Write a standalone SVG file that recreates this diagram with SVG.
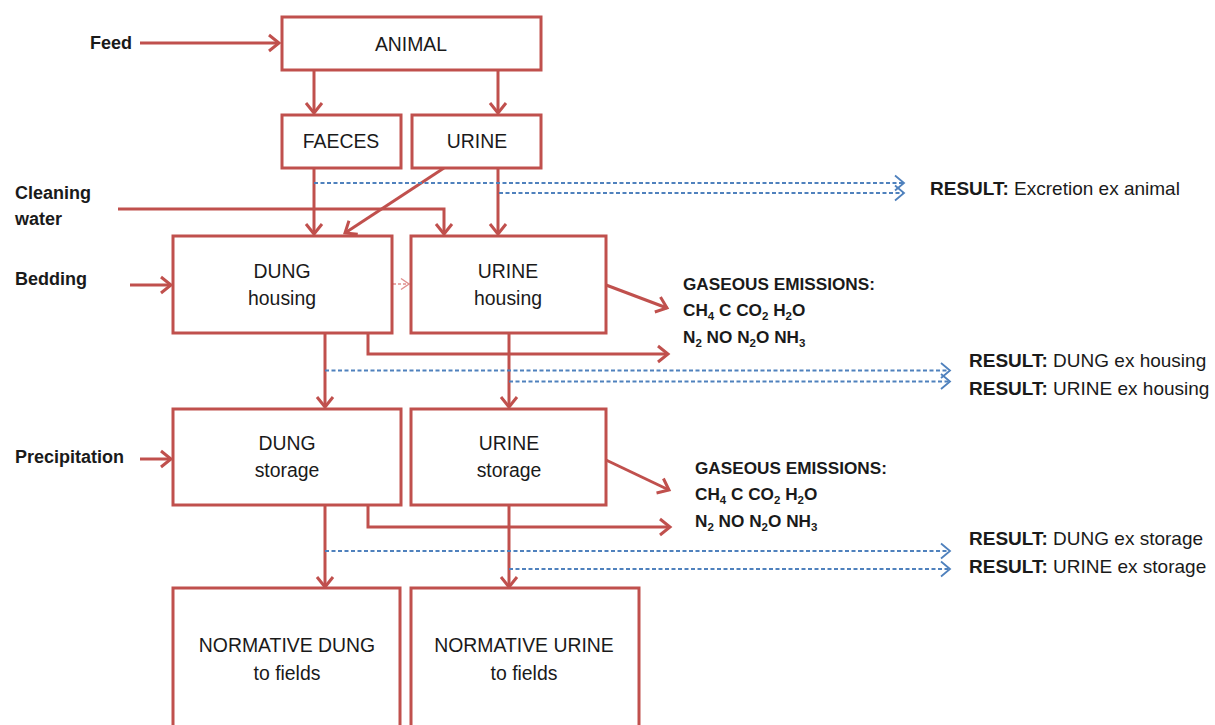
<svg xmlns="http://www.w3.org/2000/svg" width="1215" height="725" viewBox="0 0 1215 725">
  <style>
    .box { fill: #ffffff; stroke: #c0504d; stroke-width: 3; }
    .flow { fill: none; stroke: #c0504d; stroke-width: 3; }
    .result { fill: none; stroke: #4f81bd; stroke-width: 1.8; stroke-dasharray: 4 2.5; }
    .minor { fill: none; stroke: #e0908e; stroke-width: 1.5; stroke-dasharray: 3 2; }
    .lbl { font-family: "Liberation Sans", Arial, sans-serif; font-size: 19.4px; fill: #1a1a1a; text-anchor: middle; }
    .side { font-family: "Liberation Sans", Arial, sans-serif; font-size: 18px; font-weight: bold; fill: #1a1a1a; }
    .gas { font-family: "Liberation Sans", Arial, sans-serif; font-size: 17.2px; font-weight: bold; fill: #1a1a1a; }
    .res { font-family: "Liberation Sans", Arial, sans-serif; font-size: 19px; fill: #1a1a1a; }
    .b { font-weight: bold; }
    .sub { font-size: 11.5px; }
  </style>
  <defs>
    <marker id="arrRed" markerUnits="userSpaceOnUse" markerWidth="16" markerHeight="20" refX="12" refY="10" orient="auto">
      <path d="M2,2 L12,10 L2,18" fill="none" stroke="#c0504d" stroke-width="3"/>
    </marker>
    <marker id="arrMinor" markerUnits="userSpaceOnUse" markerWidth="12" markerHeight="14" refX="9" refY="7" orient="auto">
      <path d="M1,1.5 L9,7 L1,12.5" fill="none" stroke="#e0908e" stroke-width="1.5"/>
    </marker>
    <marker id="arrBlue" markerUnits="userSpaceOnUse" markerWidth="14" markerHeight="18" refX="10" refY="9" orient="auto">
      <path d="M1,1.5 L10,9 L1,16.5" fill="none" stroke="#4f81bd" stroke-width="1.8"/>
    </marker>
  </defs>

  <rect width="1215" height="725" fill="#ffffff"/>

  <!-- connectors -->
  <g id="connectors">
    <!-- inputs -->
    <line class="flow" x1="140" y1="43" x2="279" y2="43" marker-end="url(#arrRed)"/>
    <polyline class="flow" points="118,209 444,209 444,234" marker-end="url(#arrRed)"/>
    <line class="flow" x1="130" y1="285" x2="171" y2="285" marker-end="url(#arrRed)"/>
    <line class="flow" x1="140" y1="459" x2="171" y2="459" marker-end="url(#arrRed)"/>
    <!-- animal to excreta -->
    <line class="flow" x1="314" y1="70" x2="314" y2="113" marker-end="url(#arrRed)"/>
    <line class="flow" x1="498" y1="70" x2="498" y2="113" marker-end="url(#arrRed)"/>
    <!-- excreta to housing -->
    <line class="flow" x1="314" y1="168" x2="314" y2="234" marker-end="url(#arrRed)"/>
    <line class="flow" x1="444" y1="168" x2="345" y2="233" marker-end="url(#arrRed)"/>
    <line class="flow" x1="498" y1="168" x2="498" y2="234" marker-end="url(#arrRed)"/>
    <!-- dung housing to urine housing -->
    <line class="minor" x1="393" y1="284" x2="409" y2="284" marker-end="url(#arrMinor)"/>
    <!-- housing to storage -->
    <line class="flow" x1="325" y1="333" x2="325" y2="407" marker-end="url(#arrRed)"/>
    <line class="flow" x1="509" y1="333" x2="509" y2="407" marker-end="url(#arrRed)"/>
    <!-- housing emissions -->
    <line class="flow" x1="606" y1="285" x2="667" y2="308" marker-end="url(#arrRed)"/>
    <polyline class="flow" points="368,333 368,354 668,354" marker-end="url(#arrRed)"/>
    <!-- storage to fields -->
    <line class="flow" x1="325" y1="505" x2="325" y2="587" marker-end="url(#arrRed)"/>
    <line class="flow" x1="509" y1="505" x2="509" y2="587" marker-end="url(#arrRed)"/>
    <!-- storage emissions -->
    <line class="flow" x1="606" y1="460" x2="669" y2="490" marker-end="url(#arrRed)"/>
    <polyline class="flow" points="368,505 368,527 670,527" marker-end="url(#arrRed)"/>
    <!-- result streams -->
    <line class="result" x1="314" y1="183" x2="904" y2="183" marker-end="url(#arrBlue)"/>
    <line class="result" x1="499" y1="193" x2="904" y2="193" marker-end="url(#arrBlue)"/>
    <line class="result" x1="325" y1="370.5" x2="950" y2="370.5" marker-end="url(#arrBlue)"/>
    <line class="result" x1="509" y1="381.5" x2="950" y2="381.5" marker-end="url(#arrBlue)"/>
    <line class="result" x1="325" y1="551" x2="950" y2="551" marker-end="url(#arrBlue)"/>
    <line class="result" x1="509" y1="569" x2="950" y2="569" marker-end="url(#arrBlue)"/>
  </g>

  <!-- input labels -->
  <g id="inputs">
    <text class="side" x="90" y="49">Feed</text>
    <text class="side" x="15" y="199">Cleaning</text>
    <text class="side" x="15" y="225">water</text>
    <text class="side" x="15" y="285">Bedding</text>
    <text class="side" x="15" y="463">Precipitation</text>
  </g>

  <g id="animal">
    <rect class="box" x="282" y="17" width="259" height="53"/>
    <text class="lbl" x="411" y="51">ANIMAL</text>
  </g>
  <g id="faeces">
    <rect class="box" x="282" y="115" width="119" height="53"/>
    <text class="lbl" x="341" y="148">FAECES</text>
  </g>
  <g id="urine">
    <rect class="box" x="412" y="115" width="129" height="53"/>
    <text class="lbl" x="477" y="148">URINE</text>
  </g>
  <g id="dung-housing">
    <rect class="box" x="173" y="236" width="219" height="97"/>
    <text class="lbl" x="282" y="278">DUNG</text>
    <text class="lbl" x="282" y="305">housing</text>
  </g>
  <g id="urine-housing">
    <rect class="box" x="411" y="236" width="195" height="97"/>
    <text class="lbl" x="508" y="278">URINE</text>
    <text class="lbl" x="508" y="305">housing</text>
  </g>
  <g id="dung-storage">
    <rect class="box" x="173" y="409" width="228" height="96"/>
    <text class="lbl" x="287" y="450">DUNG</text>
    <text class="lbl" x="287" y="477">storage</text>
  </g>
  <g id="urine-storage">
    <rect class="box" x="411" y="409" width="195" height="96"/>
    <text class="lbl" x="509" y="450">URINE</text>
    <text class="lbl" x="509" y="477">storage</text>
  </g>
  <g id="normative-dung">
    <rect class="box" x="173" y="588" width="227" height="150"/>
    <text class="lbl" x="287" y="652">NORMATIVE DUNG</text>
    <text class="lbl" x="287" y="680">to fields</text>
  </g>
  <g id="normative-urine">
    <rect class="box" x="411" y="588" width="228" height="150"/>
    <text class="lbl" x="524" y="652">NORMATIVE URINE</text>
    <text class="lbl" x="524" y="680">to fields</text>
  </g>

  <!-- gaseous emissions from housing -->
  <g id="emissions-housing">
    <text class="gas" x="683" y="290">GASEOUS EMISSIONS:</text>
    <text class="gas" x="683" y="316">CH<tspan class="sub" dy="4">4</tspan><tspan dy="-4"> C CO</tspan><tspan class="sub" dy="4">2</tspan><tspan dy="-4"> H</tspan><tspan class="sub" dy="4">2</tspan><tspan dy="-4">O</tspan></text>
    <text class="gas" x="683" y="343">N<tspan class="sub" dy="4">2</tspan><tspan dy="-4"> NO N</tspan><tspan class="sub" dy="4">2</tspan><tspan dy="-4">O NH</tspan><tspan class="sub" dy="4">3</tspan></text>
  </g>
  <!-- gaseous emissions from storage -->
  <g id="emissions-storage">
    <text class="gas" x="695" y="474">GASEOUS EMISSIONS:</text>
    <text class="gas" x="695" y="500">CH<tspan class="sub" dy="4">4</tspan><tspan dy="-4"> C CO</tspan><tspan class="sub" dy="4">2</tspan><tspan dy="-4"> H</tspan><tspan class="sub" dy="4">2</tspan><tspan dy="-4">O</tspan></text>
    <text class="gas" x="695" y="527">N<tspan class="sub" dy="4">2</tspan><tspan dy="-4"> NO N</tspan><tspan class="sub" dy="4">2</tspan><tspan dy="-4">O NH</tspan><tspan class="sub" dy="4">3</tspan></text>
  </g>

  <!-- results -->
  <g id="results">
    <text class="res" x="930" y="195"><tspan class="b">RESULT:</tspan> Excretion ex animal</text>
    <text class="res" x="969" y="367"><tspan class="b">RESULT:</tspan> DUNG ex housing</text>
    <text class="res" x="969" y="395"><tspan class="b">RESULT:</tspan> URINE ex housing</text>
    <text class="res" x="969" y="545"><tspan class="b">RESULT:</tspan> DUNG ex storage</text>
    <text class="res" x="969" y="573"><tspan class="b">RESULT:</tspan> URINE ex storage</text>
  </g>
</svg>
